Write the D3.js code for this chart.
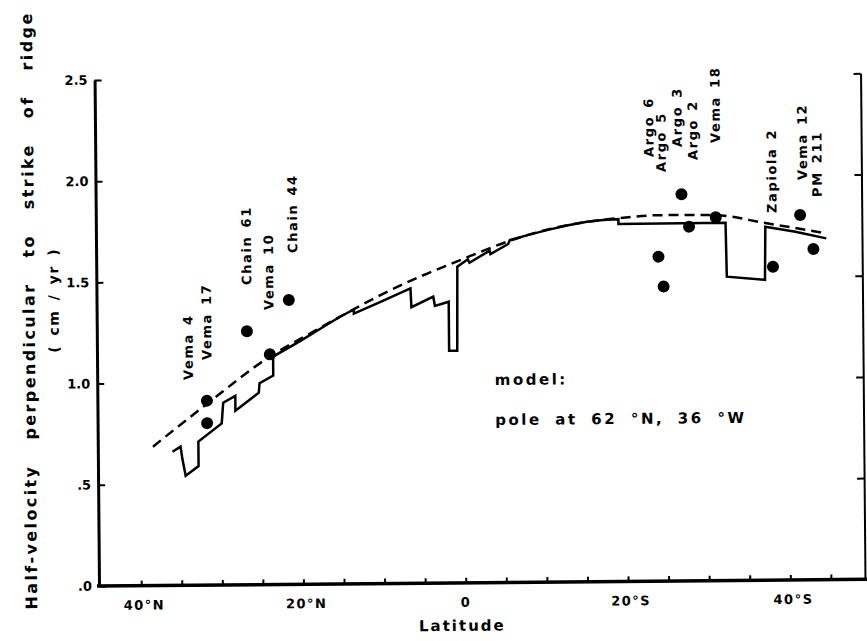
<!DOCTYPE html>
<html>
<head>
<meta charset="utf-8">
<script src="https://cdn.jsdelivr.net/npm/d3@7"></script>
<style>
body { margin: 0; background: #fff; }
svg { display: block; }
text { font-family: "DejaVu Sans", sans-serif; font-weight: bold; fill: #000; }
</style>
</head>
<body>
<svg width="867" height="641"></svg>
<script>
// stations: name, latitude of label (+N / -S) and value at label foot
var stationNames = ["Vema 4", "Vema 17", "Chain 61", "Vema 10", "Chain 44",
                    "Argo 6", "Argo 5", "Argo 3", "Argo 2", "Vema 18",
                    "Zapiola 2", "Vema 12", "PM 211"];
var labelLat = [33.4, 31.1, 26.1, 23.4, 20.4, -23.6, -25.1, -27.1, -29.0, -31.8, -38.7, -42.5, -44.3];
var labelVal = [1.014, 1.112, 1.481, 1.356, 1.637, 2.096, 2.021, 2.144, 2.079, 2.162, 1.814, 1.975, 1.891];

// observed half-velocities (dots)
var obsLat = [31.7, 31.7, 26.7, 23.9, 21.5, -27.0, -24.1, -24.7, -27.9, -31.2, -38.2, -41.6, -43.2];
var obsVal = [0.911, 0.80, 1.252, 1.137, 1.405, 1.910, 1.603, 1.455, 1.750, 1.795, 1.548, 1.803, 1.634];

// model, spreading perpendicular to ridge (dashed)
var perpLat = [38.4, 31.7, 23.9, 19, 15.2, 10.2, 5, 0.8, -5.8, -10.5, -15.3, -19.2, -24.3, -30.9, -37.5, -44.8];
var perpVal = [0.686, 0.895, 1.126, 1.237, 1.320, 1.425, 1.52, 1.587, 1.688, 1.742, 1.778, 1.795, 1.808, 1.806, 1.763, 1.711];

// model, component perpendicular to strike of each ridge segment (solid)
var strikeLat = [36.0, 35.0, 34.8, 34.4, 32.8, 32.8, 29.9, 29.7, 28.2, 28.2, 25.3, 25.2, 23.5, 23.5,
                 20, 17, 15.2, 13.5, 13.5, 10.2, 6.5, 6.4, 3.7, 3.5, 1.8, 1.8, 0.8, 0.7,
                 -0.6, -0.8, -3.3, -3.4, -5.6, -5.8, -8, -10.5, -13, -15.3, -17.3, -19.2, -19.2,
                 -32.4, -32.5, -37.2, -37.3, -41, -44.8];
var strikeVal = [0.660, 0.685, 0.627, 0.541, 0.588, 0.709, 0.798, 0.900, 0.933, 0.860, 0.948, 0.995, 1.032, 1.126,
                 1.205, 1.277, 1.320, 1.355, 1.335, 1.392, 1.457, 1.364, 1.415, 1.369, 1.389, 1.147, 1.147, 1.562,
                 1.598, 1.581, 1.640, 1.623, 1.672, 1.692, 1.715, 1.740, 1.762, 1.778, 1.786, 1.790, 1.766,
                 1.768, 1.501, 1.484, 1.746, 1.720, 1.686];

var yMajor = [0, 0.5, 1.0, 1.5, 2.0, 2.5];
var yTickLabels = [".0", ".5", "1.0", "1.5", "2.0", "2.5"];
var xLabelVals = [40, 20, 0, -20, -40];
var xTickLabels = ["40°N", "20°N", "0", "20°S", "40°S"];

var svg = d3.select("svg")
    .append("g")
    .attr("transform", "rotate(-0.5,99,586)");

var x = d3.scaleLinear().domain([45.2, -49.2]).range([99, 865]);
var y = d3.scaleLinear().domain([0, 2.5]).range([586, 80]);

// left axis
var yAxisG = svg.append("g").attr("transform", "translate(99,0)");
yAxisG.call(d3.axisLeft(y).tickValues(d3.range(0, 2.51, 0.1)).tickSizeInner(-4).tickSizeOuter(0).tickFormat(""));
yAxisG.call(d3.axisLeft(y).tickValues(yMajor).tickSizeInner(-7).tickSizeOuter(0).tickPadding(7)
    .tickFormat(function(d, i) { return yTickLabels[i]; }));
yAxisG.selectAll("path.domain").attr("stroke-width", 3);
yAxisG.selectAll("line").attr("stroke-width", 2);
yAxisG.selectAll("text").style("font-size", "13px").attr("fill", "#000");

// right axis
var rAxisG = svg.append("g").attr("transform", "translate(865,0)");
rAxisG.call(d3.axisRight(y).tickValues(d3.range(0.1, 2.51, 0.1)).tickSizeInner(-4).tickSizeOuter(0).tickFormat(""));
rAxisG.call(d3.axisRight(y).tickValues(yMajor.slice(1)).tickSizeInner(-7).tickSizeOuter(0).tickFormat(""));
rAxisG.selectAll("path.domain").attr("stroke-width", 2);
rAxisG.selectAll("line").attr("stroke-width", 2);

// bottom axis
var xAxisG = svg.append("g").attr("transform", "translate(0,586)");
xAxisG.call(d3.axisBottom(x).tickValues(d3.range(40, -46, -5)).tickSizeInner(-5).tickSizeOuter(0).tickFormat(""));
xAxisG.selectAll("path.domain").remove();
xAxisG.selectAll("line").attr("stroke-width", 2);
xAxisG.append("line")
    .attr("x1", 97).attr("x2", 872)
    .attr("stroke", "#000").attr("stroke-width", 3.5);

xAxisG.selectAll(".xlab")
    .data(xLabelVals)
    .enter()
    .append("text")
    .attr("class", "xlab")
    .attr("x", function(d) { return x(d) + (d == 0 ? 0 : 3); })
    .attr("y", 24)
    .attr("text-anchor", "middle")
    .style("font-size", "13px")
    .style("letter-spacing", "1.5px")
    .text(function(d, i) { return xTickLabels[i]; });

svg.append("text")
    .attr("x", 462)
    .attr("y", 634)
    .attr("text-anchor", "middle")
    .style("font-size", "15px")
    .style("letter-spacing", "2px")
    .text("Latitude");

// y title
svg.append("text")
    .attr("transform", "translate(37,609) rotate(-90)")
    .style("font-size", "16px")
    .style("letter-spacing", "2.4px")
    .style("word-spacing", "17px")
    .text("Half-velocity perpendicular to strike of ridge");

svg.append("text")
    .attr("transform", "translate(61,300) rotate(-90)")
    .attr("text-anchor", "middle")
    .style("font-size", "14px")
    .style("letter-spacing", "1.5px")
    .style("word-spacing", "3px")
    .text("( cm / yr )");

// model lines
var perpLine = d3.line()
    .x(function(d) { return x(d[0]); })
    .y(function(d) { return y(d[1]); })
    .curve(d3.curveMonotoneX);

svg.append("path")
    .datum(perpLat.map(function(d, i) { return [d, perpVal[i]]; }))
    .attr("d", perpLine)
    .attr("fill", "none")
    .attr("stroke", "#000")
    .attr("stroke-width", 2.5)
    .attr("stroke-dasharray", "10,6");

var strikeLine = d3.line()
    .x(function(d) { return x(d[0]); })
    .y(function(d) { return y(d[1]); });

svg.append("path")
    .datum(strikeLat.map(function(d, i) { return [d, strikeVal[i]]; }))
    .attr("d", strikeLine)
    .attr("fill", "none")
    .attr("stroke", "#000")
    .attr("stroke-width", 2.5)
    .attr("stroke-linejoin", "miter");

// observations
svg.selectAll(".obs")
    .data(obsLat)
    .enter()
    .append("circle")
    .attr("class", "obs")
    .attr("cx", function(d) { return x(d); })
    .attr("cy", function(d, i) { return y(obsVal[i]); })
    .attr("r", 6)
    .attr("fill", "#000");

// station labels
svg.selectAll(".stn")
    .data(stationNames)
    .enter()
    .append("text")
    .attr("class", "stn")
    .attr("transform", function(d, i) {
        return "translate(" + x(labelLat[i]) + "," + y(labelVal[i]) + ") rotate(-90)";
    })
    .style("font-size", "13px")
    .style("letter-spacing", "1.6px")
    .style("word-spacing", "2px")
    .text(function(d) { return d; });

// model note
svg.append("text")
    .attr("x", x(-3.8))
    .attr("y", y(0.976))
    .style("font-size", "15px")
    .style("letter-spacing", "2.5px")
    .text("model:");

svg.append("text")
    .attr("x", x(-3.8))
    .attr("y", y(0.778))
    .style("font-size", "15px")
    .style("letter-spacing", "2.5px")
    .style("word-spacing", "6px")
    .text("pole at 62 °N, 36 °W");
</script>
</body>
</html>
